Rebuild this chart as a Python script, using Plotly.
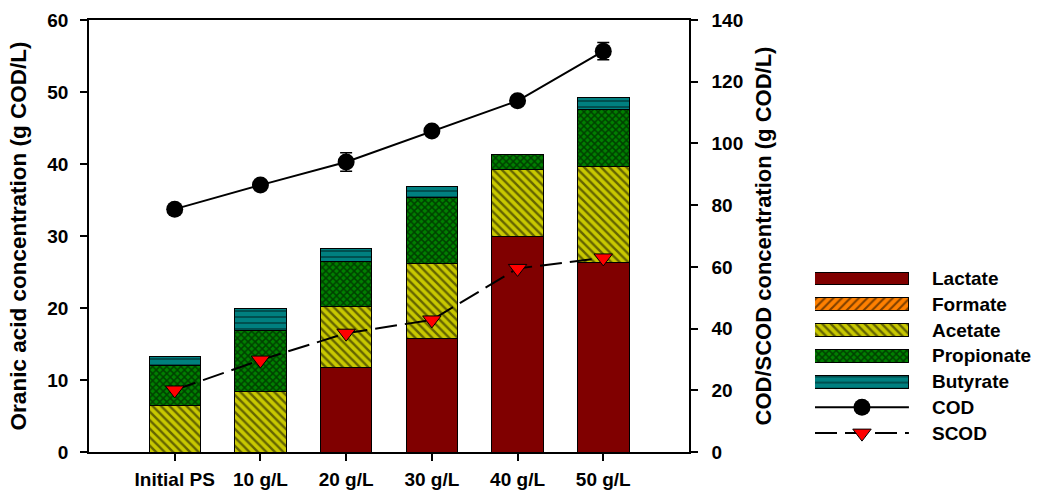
import plotly.graph_objects as go

# ---- data ----
categories = ["Initial PS", "10 g/L", "20 g/L", "30 g/L", "40 g/L", "50 g/L"]
lactate = [0, 0, 11.8, 15.7, 29.9, 26.3]
formate = [0, 0, 0, 0, 0, 0]
acetate = [6.4, 8.4, 8.4, 10.5, 9.4, 13.3]
propionate = [5.6, 8.5, 6.3, 9.1, 2.0, 8.0]
butyrate = [1.3, 3.1, 1.7, 1.6, 0, 1.6]
cod = [78.7, 86.5, 94.0, 104.0, 113.8, 129.9]
cod_err = [1.0, 1.0, 3.0, 1.0, 1.0, 2.8]
scod = [20.1, 29.8, 38.5, 42.8, 59.5, 62.9]

FONT = "Arial, Liberation Sans, sans-serif"

def bfont(size):
    return dict(family=FONT, size=size, color="black", weight="bold")

# acid series: name, values, fill colour, hatch shape, hatch spacing, hatch solidity
acids = [
    ("Lactate", lactate, "#800000", "", 6, 0.3),
    ("Formate", formate, "#FF8000", "/", 6, 0.35),
    ("Acetate", acetate, "#C8C800", "\\", 6, 0.4),
    ("Propionate", propionate, "#008000", "x", 5, 0.5),
    ("Butyrate", butyrate, "#008080", "-", 6, 0.25),
]

def acid_marker(color, shape, size, solidity):
    m = dict(color=color, line=dict(color="black", width=1))
    if shape:
        m["pattern"] = dict(shape=shape, fgcolor="black", size=size, solidity=solidity)
    return m

cod_line = dict(color="black", width=2)
cod_marker = dict(symbol="circle", size=17, color="black")
scod_line = dict(color="black", width=2, dash="22px,8px")
scod_marker = dict(symbol="triangle-down", size=16, color="red",
                   line=dict(color="black", width=1))

fig = go.Figure()

# stacked organic-acid bars (left axis)
for name, vals, color, shape, size, sol in acids:
    fig.add_trace(go.Bar(
        x=categories, y=vals, name=name, width=0.6,
        marker=acid_marker(color, shape, size, sol),
        showlegend=False, xaxis="x", yaxis="y",
    ))

# COD / SCOD lines (right axis)
fig.add_trace(go.Scatter(
    x=categories, y=cod, name="COD", mode="lines+markers",
    line=cod_line, marker=cod_marker,
    error_y=dict(type="data", array=cod_err, color="black", thickness=1.5, width=6),
    showlegend=False, xaxis="x", yaxis="y2",
))
fig.add_trace(go.Scatter(
    x=categories, y=scod, name="SCOD", mode="lines+markers",
    line=scod_line, marker=scod_marker,
    showlegend=False, xaxis="x", yaxis="y2",
))

# key: one swatch per series on a small side axis, labels as tick text
key_names = [a[0] for a in acids] + ["COD", "SCOD"]
swatch_len = [1]
for name, vals, color, shape, size, sol in acids:
    fig.add_trace(go.Bar(
        x=swatch_len, y=[name], orientation="h", width=0.5,
        marker=acid_marker(color, shape, size, sol),
        showlegend=False, xaxis="x2", yaxis="y3", hoverinfo="skip",
    ))
for name, line, marker in [("COD", cod_line, cod_marker), ("SCOD", scod_line, scod_marker)]:
    fig.add_trace(go.Scatter(
        x=[0, 1], y=[name, name], mode="lines", line=line,
        showlegend=False, xaxis="x2", yaxis="y3", hoverinfo="skip",
    ))
    fig.add_trace(go.Scatter(
        x=[0.5], y=[name], mode="markers", marker=marker,
        showlegend=False, xaxis="x2", yaxis="y3", hoverinfo="skip",
    ))

axis_common = dict(
    showline=True, linecolor="black", linewidth=1.5,
    ticks="outside", ticklen=7, tickwidth=1.5, tickcolor="black",
    showgrid=False, zeroline=False, tickfont=bfont(19), automargin=False,
)

fig.update_layout(
    width=1041, height=491,
    margin=dict(l=89, r=0, t=20, b=39),
    paper_bgcolor="white", plot_bgcolor="white",
    font=dict(family=FONT, color="black"),
    barmode="stack",
    showlegend=False,
    xaxis=dict(
        domain=[0, 0.63025], range=[-1, 6], type="category",
        categoryarray=categories, mirror=True, ticklabelstandoff=2,
        anchor="y", **axis_common,
    ),
    yaxis=dict(
        range=[0, 60], tick0=0, dtick=10, anchor="x",
        title=dict(text="Oranic acid concentration (g COD/L)", font=bfont(22.5), standoff=14),
        ticklabelstandoff=8, **axis_common,
    ),
    yaxis2=dict(
        range=[0, 140], tick0=0, dtick=20, overlaying="y", side="right", anchor="x",
        title=dict(text="COD/SCOD concentration (g COD/L)", font=bfont(22), standoff=13),
        ticklabelstandoff=10, **axis_common,
    ),
    xaxis2=dict(domain=[0.7626, 0.8613], range=[0, 1], visible=False,
                anchor="y3", fixedrange=True),
    yaxis3=dict(
        domain=[0.0139, 0.4315], anchor="x2", type="category",
        categoryarray=key_names, range=[6.5, -0.5], side="right",
        showline=False, ticks="", showgrid=False, zeroline=False,
        tickfont=bfont(19), ticklabelstandoff=22, automargin=False,
    ),
)

fig.write_html("out.html")
